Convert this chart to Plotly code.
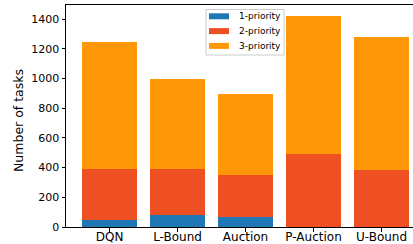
import plotly.graph_objects as go

categories = ["DQN", "L-Bound", "Auction", "P-Auction", "U-Bound"]
p1 = [47, 79, 65, 0, 0]
p2 = [343, 311, 285, 491, 386]
p3 = [855, 610, 545, 933, 893]
series_names = ["1-priority", "2-priority", "3-priority"]
colors = ["#1f77b4", "#ee5024", "#ff9808"]
y_ticks = [0, 200, 400, 600, 800, 1000, 1200, 1400]
y_title = "Number of tasks"

# plot area in pixels
L, R, T, B = 66, 413, 5, 227
W, H = 413, 244


def px(xp):
    return (xp - L) / (R - L)


def py(yp):
    return (B - yp) / (B - T)


x = list(range(len(categories)))
fig = go.Figure()
for name, vals, c in zip(series_names, [p1, p2, p3], colors):
    fig.add_trace(go.Bar(x=x, y=vals, name=name, marker=dict(color=c, line=dict(width=0)),
                         width=0.8, showlegend=False))

# legend box (matplotlib style, upper center)
shapes = [dict(type="rect", xref="paper", yref="paper", x0=px(206), x1=px(284), y0=py(55), y1=py(9.5),
               fillcolor="rgba(255,255,255,0.8)", line=dict(color="#cccccc", width=1), layer="above")]
annotations = []
for i, (name, c) in enumerate(zip(series_names, colors)):
    cy = 16.3 + i * 14.8
    shapes.append(dict(type="rect", xref="paper", yref="paper", x0=px(209), x1=px(229),
                       y0=py(cy + 3), y1=py(cy - 3), fillcolor=c, line=dict(width=0), layer="above"))
    annotations.append(dict(text=name, xref="paper", yref="paper", x=px(236.5), y=py(cy),
                            xanchor="left", yanchor="middle", showarrow=False,
                            font=dict(size=9, family="DejaVu Sans", color="black")))
annotations.append(dict(text=y_title, xref="paper", yref="paper", x=px(18), y=py(120),
                        xanchor="center", yanchor="middle", textangle=-90, showarrow=False,
                        font=dict(size=12.5, family="DejaVu Sans", color="black")))

font = "DejaVu Sans"
fig.update_layout(
    barmode="stack",
    width=W, height=H,
    margin=dict(l=L, r=W - R, t=T, b=H - B, autoexpand=False),
    plot_bgcolor="white", paper_bgcolor="white",
    font=dict(family=font, size=11, color="black"),
    showlegend=False,
    shapes=shapes, annotations=annotations,
    xaxis=dict(range=[-0.64, -0.64 + (R - L) / 68], tickmode="array", tickvals=x, ticktext=categories,
               showgrid=False, zeroline=False, showline=True, linecolor="black", linewidth=1,
               mirror=True, ticks="outside", ticklen=3.5, tickcolor="black",
               tickfont=dict(size=12), automargin=False, ticklabelstandoff=-5),
    yaxis=dict(range=[0, 1496], tickmode="array", tickvals=y_ticks,
               showgrid=False, zeroline=False, showline=True, linecolor="black", linewidth=1,
               ticks="outside", ticklen=3.5, tickcolor="black", tickfont=dict(size=11),
               automargin=False),
)
fig.write_html("out.html", config={"displayModeBar": False},
               post_script="document.body.style.margin='0';")
